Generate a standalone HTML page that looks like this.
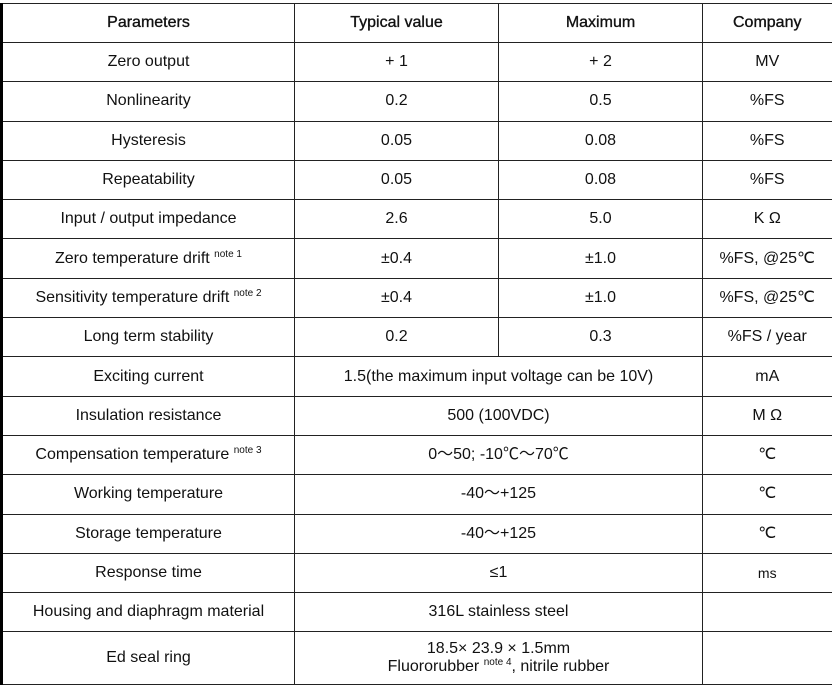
<!DOCTYPE html>
<html><head><meta charset="utf-8"><style>
html,body{margin:0;padding:0;background:#fff;}
body{width:832px;height:686px;position:relative;overflow:hidden;font-family:"Liberation Sans",Arial,sans-serif;font-size:16px;color:#111;}
table{position:absolute;left:0;top:3px;border-collapse:collapse;table-layout:fixed;width:831px;}
td{border:1.5px solid #222;text-align:center;vertical-align:middle;padding:0;height:38.3px;line-height:18px;}
tr.h td{-webkit-text-stroke:0.35px #111;height:38px;}
tr.last td{height:52px;}
td.c0{border-left:3px solid #000;}
td.c3{border-right:2px solid #000;}
sup{font-size:10px;vertical-align:6px;line-height:0;}
</style></head><body>
<table>
<colgroup><col style="width:293px"><col style="width:204px"><col style="width:204px"><col style="width:130px"></colgroup>
<tr class="h"><td class="c0">Parameters</td><td>Typical value</td><td>Maximum</td><td class="c3">Company</td></tr>
<tr><td class="c0">Zero output</td><td>+ 1</td><td>+ 2</td><td class="c3">MV</td></tr>
<tr><td class="c0">Nonlinearity</td><td>0.2</td><td>0.5</td><td class="c3">%FS</td></tr>
<tr><td class="c0">Hysteresis</td><td>0.05</td><td>0.08</td><td class="c3">%FS</td></tr>
<tr><td class="c0">Repeatability</td><td>0.05</td><td>0.08</td><td class="c3">%FS</td></tr>
<tr><td class="c0">Input / output impedance</td><td>2.6</td><td>5.0</td><td class="c3">K Ω</td></tr>
<tr><td class="c0">Zero temperature drift <sup>note 1</sup></td><td>±0.4</td><td>±1.0</td><td class="c3">%FS, @25℃</td></tr>
<tr><td class="c0">Sensitivity temperature drift <sup>note 2</sup></td><td>±0.4</td><td>±1.0</td><td class="c3">%FS, @25℃</td></tr>
<tr><td class="c0">Long term stability</td><td>0.2</td><td>0.3</td><td class="c3">%FS / year</td></tr>
<tr><td class="c0">Exciting current</td><td colspan="2">1.5(the maximum input voltage can be 10V)</td><td class="c3">mA</td></tr>
<tr><td class="c0">Insulation resistance</td><td colspan="2">500 (100VDC)</td><td class="c3">M Ω</td></tr>
<tr><td class="c0">Compensation temperature <sup>note 3</sup></td><td colspan="2">0～50; -10℃～70℃</td><td class="c3">℃</td></tr>
<tr><td class="c0">Working temperature</td><td colspan="2">-40～+125</td><td class="c3">℃</td></tr>
<tr><td class="c0">Storage temperature</td><td colspan="2">-40～+125</td><td class="c3">℃</td></tr>
<tr><td class="c0">Response time</td><td colspan="2">≤1</td><td class="c3" style="font-size:14px">ms</td></tr>
<tr><td class="c0">Housing and diaphragm material</td><td colspan="2">316L stainless steel</td><td class="c3"></td></tr>
<tr class="last"><td class="c0">Ed seal ring</td><td colspan="2">18.5× 23.9 × 1.5mm<br>Fluororubber <sup>note 4</sup>, nitrile rubber</td><td class="c3"></td></tr>
</table>
</body></html>
